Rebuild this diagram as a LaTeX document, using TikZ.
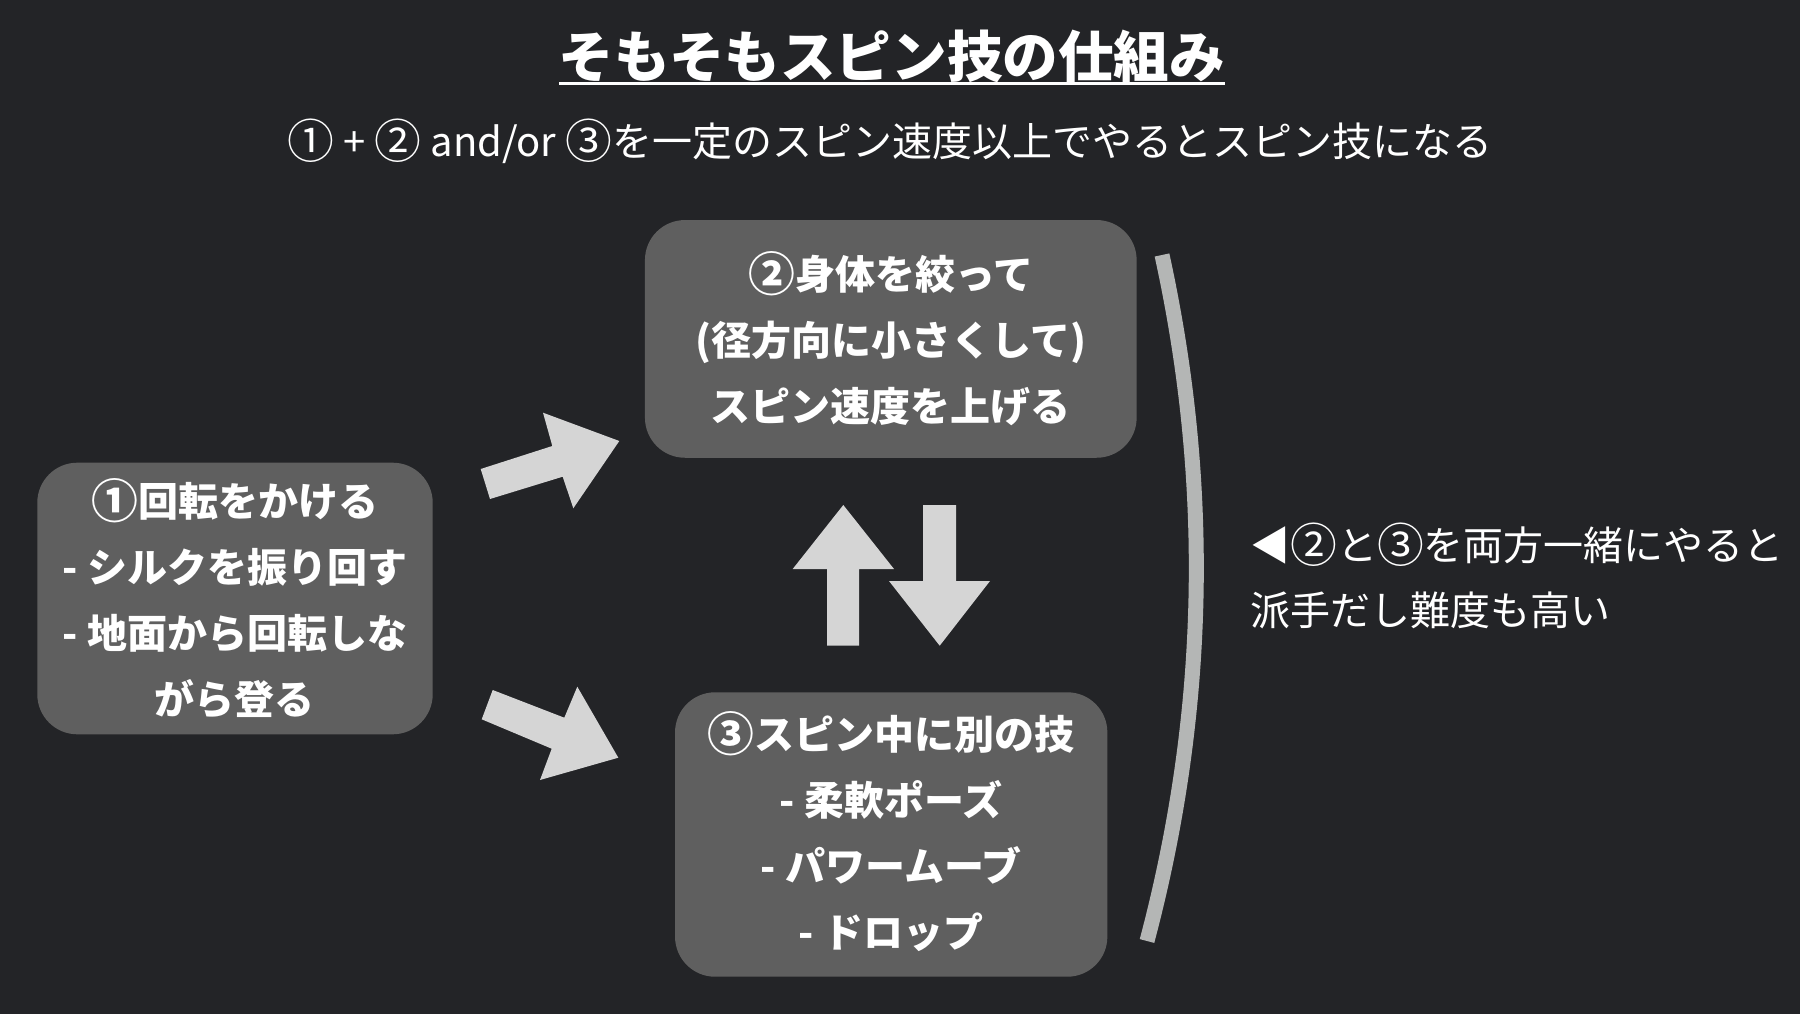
\documentclass[tikz,border=0pt]{standalone}
\usepackage{fontspec}
\setmainfont{Noto Sans CJK JP}
\newcommand{\cn}[1]{\raisebox{-0.06em}{\scalebox{1.17}{#1}}}
\definecolor{bgc}{HTML}{232427}
\definecolor{boxc}{HTML}{5F5F5F}
\definecolor{arrowc}{HTML}{D5D5D5}
\definecolor{bracketc}{HTML}{B4B6B5}
\tikzset{
  box/.style={fill=boxc, draw=none, rounded corners=40pt, align=center, text=white,
    inner sep=0pt, font=\bfseries\fontsize{40}{66}\selectfont},
  blockarrow/.style={fill=arrowc, draw=none},
  plaintext/.style={text=white, inner sep=0pt},
}
\begin{document}
\begin{tikzpicture}[x=1pt,y=-1pt]
\fill[bgc] (0,0) rectangle (1800,1014);
\useasboundingbox (0,0) rectangle (1800,1014);

% title
\node[plaintext, anchor=base, font=\bfseries\fontsize{55.6}{60}\selectfont] (title) at (892,78) {そもそもスピン技の仕組み};
\draw[white, line width=3pt] ([yshift=-6pt]title.base west) -- ([yshift=-6pt]title.base east);

% subtitle
\node[plaintext, font=\fontsize{40}{48}\selectfont] (sub) at (890,141) {\cn{①} + \cn{②} and/or \cn{③}を一定のスピン速度以上でやるとスピン技になる};

% boxes
\node[box, minimum width=395.4pt, minimum height=271.6pt] (b1) at (235,598.5)
  {\cn{①}回転をかける\\- シルクを振り回す\\- 地面から回転しな\\がら登る};
\node[box, minimum width=491.7pt, minimum height=237.7pt] (b2) at (890.8,338.9)
  {\cn{②}身体を絞って\\(径方向に小さくして)\\スピン速度を上げる};
\node[box, minimum width=432.3pt, minimum height=284.4pt] (b3) at (891.2,834.5) {};
\node[plaintext, align=center, font=\bfseries\fontsize{40}{66}\selectfont] (b3t) at ([yshift=3pt]b3.center)
  {\cn{③}スピン中に別の技\\- 柔軟ポーズ\\- パワームーブ\\- ドロップ};

% block arrows
\fill[blockarrow] (480.7,469) -- (552.3,446) -- (543,412.7) -- (619.3,441) -- (573.3,508.3) -- (562.7,476.7) -- (490,499) -- cycle;
\fill[blockarrow] (492.7,690) -- (564.3,717.7) -- (577.3,686.7) -- (618.3,757.7) -- (540,780) -- (551.7,748.7) -- (481.7,719.3) -- cycle;
\fill[blockarrow] (827,645.7) -- (827,569) -- (792.7,569) -- (843.3,505) -- (894,569) -- (859,569) -- (859,645.7) -- cycle;
\fill[blockarrow] (923,505) -- (956,505) -- (956,581) -- (990,581) -- (939.7,645.7) -- (889,581) -- (923,581) -- cycle;

% bracket
\coordinate (brtop) at (1162,255);
\coordinate (brbot) at (1147,941);
\draw[bracketc, line width=15pt] (brtop) .. controls (1212.3,485) and (1207.3,713.7) .. (brbot);

% side note
\node[plaintext, anchor=west, align=left, font=\fontsize{40}{65}\selectfont] (note) at (1250,576)
  {◀\cn{②}と\cn{③}を両方一緒にやると\\派手だし難度も高い};
\end{tikzpicture}
\end{document}
